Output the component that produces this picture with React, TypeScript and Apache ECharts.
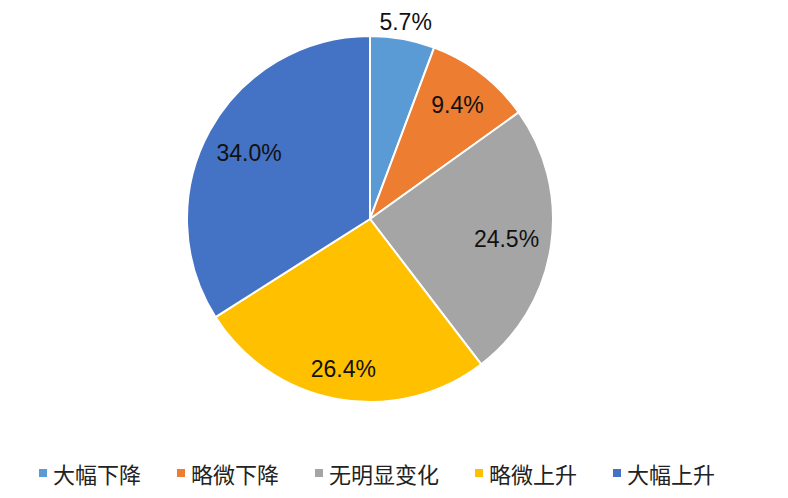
import React, { useEffect, useRef } from "react";
import * as echarts from "echarts";

const categories = ["大幅下降", "略微下降", "无明显变化", "略微上升", "大幅上升"];
const values = [5.7, 9.4, 24.5, 26.4, 34.0];
const colors = ["#5B9BD5", "#ED7D31", "#A5A5A5", "#FFC000", "#4472C4"];
// label distance from centre, in px
const labelRadii = [200, 144, 138, 152, 138];

const CX = 362;
const CY = 211;
const R = 183;

export default function App() {
  const ref = useRef<HTMLDivElement>(null);
  useEffect(() => {
    if (!ref.current) return;
    const chart = echarts.init(ref.current, null, { renderer: "svg" });
    const total = values.reduce((a, b) => a + b, 0);
    const mids: number[] = [];
    let acc = 0;
    values.forEach((v) => {
      mids.push(((acc + v / 2) / total) * Math.PI * 2);
      acc += v;
    });
    chart.setOption({
      animation: false,
      color: colors,
      legend: {
        top: 447,
        left: 24,
        itemWidth: 10,
        itemHeight: 10,
        itemGap: 34,
        icon: "rect",
        textStyle: {
          fontSize: 22,
          lineHeight: 26,
          color: "#222",
          fontFamily: "Noto Sans CJK SC",
        },
        data: categories,
      },
      series: [
        {
          type: "pie",
          center: [CX, CY],
          radius: [0, R],
          startAngle: 90,
          clockwise: true,
          itemStyle: { borderColor: "#fff", borderWidth: 2 },
          label: {
            show: true,
            position: "inside",
            formatter: (p: any) => p.value.toFixed(1) + "%",
            fontSize: 23,
            color: "#111",
            fontFamily: "Liberation Sans",
          },
          labelLine: { show: false },
          labelLayout: (p: any) => {
            const i = p.dataIndex;
            const a = mids[i];
            return {
              x: CX + Math.sin(a) * labelRadii[i],
              y: CY - Math.cos(a) * labelRadii[i],
              align: "center",
              verticalAlign: "middle",
            };
          },
          emphasis: { disabled: true },
          data: categories.map((c, i) => ({ name: c, value: values[i] })),
        },
      ],
    });
    return () => chart.dispose();
  }, []);
  return <div ref={ref} style={{ width: 772, height: 490 }} />;
}
